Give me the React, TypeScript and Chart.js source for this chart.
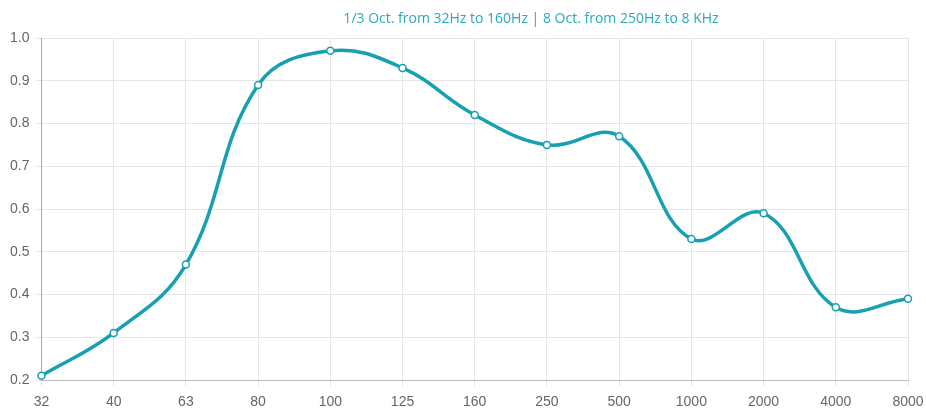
import React, { useEffect, useRef } from "react";
import { Chart, registerables } from "chart.js";

Chart.register(...registerables);

const TITLE = "1/3 Oct. from 32Hz to 160Hz | 8 Oct. from 250Hz to 8 KHz";
const FREQUENCIES = ["32", "40", "63", "80", "100", "125", "160", "250", "500", "1000", "2000", "4000", "8000"];
const ABSORPTION = [0.21, 0.31, 0.47, 0.89, 0.97, 0.93, 0.82, 0.75, 0.77, 0.53, 0.59, 0.37, 0.39];
const Y_MIN = 0.2;
const Y_MAX = 1.0;
const Y_STEP = 0.1;

const titlePlugin = {
  id: "offsetTitle",
  afterDraw(chart: any) {
    const ctx = chart.ctx;
    ctx.save();
    ctx.font = "14px 'Open Sans', 'DejaVu Sans', sans-serif";
    ctx.fillStyle = "#2aaabb";
    ctx.textAlign = "center";
    ctx.textBaseline = "middle";
    ctx.fillText(TITLE, 531, 19);
    ctx.restore();
  },
};

export default function App() {
  const ref = useRef<HTMLCanvasElement>(null);
  useEffect(() => {
    if (!ref.current) return;
    const chart = new Chart(ref.current, {
      type: "line",
      data: {
        labels: FREQUENCIES,
        datasets: [
          {
            data: ABSORPTION,
            borderColor: "#17a0b2",
            borderWidth: 3.5,
            tension: 0.4,
            pointRadius: 3.5,
            pointBorderWidth: 1.5,
            pointBackgroundColor: "#ffffff",
            pointBorderColor: "#17a0b2",
            fill: false,
          },
        ],
      },
      options: {
        animation: false,
        responsive: false,
        layout: { padding: { top: 38, left: 4, right: 0, bottom: 0 } },
        plugins: { legend: { display: false }, title: { display: false }, tooltip: { enabled: false } },
        scales: {
          x: {
            offset: false,
            grid: { color: "#e6e6e6", tickLength: 6, drawTicks: true },
            border: { color: "#bbbbbb" },
            ticks: { color: "#666", font: { size: 14, family: "'Liberation Sans', Arial, sans-serif" }, maxRotation: 0, padding: 8 },
            afterFit: (scale: any) => {
              scale.height = 31;
              scale.paddingRight = 18;
            },
          },
          y: {
            min: Y_MIN,
            max: Y_MAX,
            grid: { color: "#e6e6e6", tickLength: 6 },
            border: { color: "#aaaaaa" },
            ticks: {
              stepSize: Y_STEP,
              color: "#666",
              font: { size: 14, family: "'Liberation Sans', Arial, sans-serif" },
              padding: 6,
              callback: (v: any) => Number(v).toFixed(1),
            },
          },
        },
      },
      plugins: [titlePlugin],
    });
    return () => chart.destroy();
  }, []);
  return (
    <div style={{ position: "absolute", left: 0, top: 0, width: 926, height: 411, background: "#fff" }}>
      <canvas ref={ref} width={926} height={411} />
    </div>
  );
}
